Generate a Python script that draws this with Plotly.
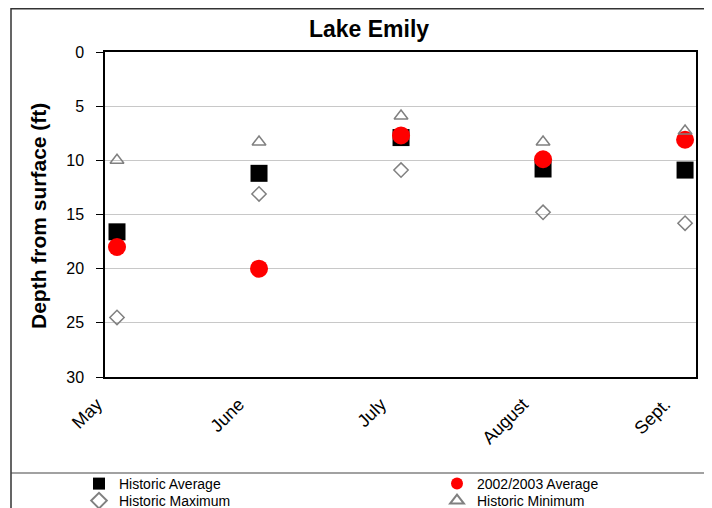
import plotly.graph_objects as go

months = ["May", "June", "July", "August", "Sept."]
historic_avg = [16.6, 11.2, 7.9, 10.8, 10.9]
avg_2002_2003 = [18.0, 20.0, 7.7, 9.9, 8.1]
historic_max = [24.5, 13.1, 10.9, 14.8, 15.8]
historic_min = [10.0, 8.3, 5.9, 8.3, 7.3]
y_ticks = [0, 5, 10, 15, 20, 25, 30]

FONT = "Arial, 'Liberation Sans', sans-serif"

fig = go.Figure()
fig.add_trace(go.Scatter(x=months, y=historic_avg, mode="markers", name="Historic Average",
                         legend="legend",
                         marker=dict(symbol="square", size=17, color="black")))
fig.add_trace(go.Scatter(x=months, y=avg_2002_2003, mode="markers", name="2002/2003 Average",
                         legend="legend2",
                         marker=dict(symbol="circle", size=18, color="#ff0000")))
fig.add_trace(go.Scatter(x=months, y=historic_max, mode="markers", name="Historic Maximum",
                         legend="legend3",
                         marker=dict(symbol="diamond-open", size=11, color="#808080",
                                     line=dict(width=1.5, color="#808080"))))
fig.add_trace(go.Scatter(x=months, y=historic_min, mode="markers", name="Historic Minimum",
                         legend="legend4",
                         marker=dict(symbol="triangle-up-open", size=12, color="#808080",
                                     line=dict(width=1.5, color="#808080"))))

# page body has an 8px margin: the figure starts at screen (8, 8)
OFF = 8
W, H = 704, 500
L, T = 97, 44
R = W - (696 - OFF)
B = H - (377 - OFF)
pw, ph = W - L - R, H - T - B

def px(sx):
    return (sx - OFF - L) / pw

def py(sy):
    return (H - B - (sy - OFF)) / ph

def cx(sx):
    return (sx - OFF) / W

def cy(sy):
    return 1 - (sy - OFF) / H

legend_common = dict(orientation="v", xref="container", yref="container",
                     xanchor="left", yanchor="middle",
                     font=dict(size=14, family=FONT), itemsizing="constant",
                     bgcolor="rgba(0,0,0,0)", tracegroupgap=0)

fig.update_layout(
    width=W, height=H,
    margin=dict(l=L, r=R, t=T, b=B, autoexpand=False),
    paper_bgcolor="white", plot_bgcolor="white",
    font=dict(family=FONT, color="black"),
    title=dict(text="<b>Lake Emily</b>", x=px(369), xanchor="center", xref="paper",
               y=cy(29), yanchor="middle", font=dict(size=23, family=FONT)),
    showlegend=True,
    legend=dict(x=cx(79), y=cy(484), **legend_common),
    legend2=dict(x=cx(437), y=cy(484), **legend_common),
    legend3=dict(x=cx(79), y=cy(501), **legend_common),
    legend4=dict(x=cx(437), y=cy(501), **legend_common),
    xaxis=dict(type="category", range=[-0.0845, 4.077], showgrid=False,
               showline=True, linecolor="black", linewidth=1.5, mirror=True,
               tickangle=-45, tickfont=dict(size=18, family=FONT), ticks="",
               ticklabelshift=-20, ticklabelstandoff=8, automargin=False),
    yaxis=dict(autorange=False, range=[30, 0], tickvals=y_ticks,
               showgrid=True, gridcolor="#c8c8c8", gridwidth=1,
               showline=True, linecolor="black", linewidth=1.5, mirror=True,
               ticks="outside", ticklen=7, tickcolor="black", zeroline=False,
               tickfont=dict(size=16, family=FONT), ticklabelstandoff=9,
               automargin=False),
    annotations=[
        dict(text="<b>Depth from surface (ft)</b>", xref="paper", yref="paper",
             x=px(38), y=py(216), xanchor="center", yanchor="middle", textangle=-90,
             showarrow=False, font=dict(size=21, family=FONT, color="black")),
    ],
    shapes=[
        dict(type="rect", xref="paper", yref="paper", x0=px(11), x1=px(730), y0=py(525), y1=py(8.8),
             line=dict(color="#333333", width=1.5), fillcolor="rgba(0,0,0,0)", layer="below"),
        dict(type="line", xref="paper", yref="paper", x0=px(11), x1=px(730), y0=py(473), y1=py(473),
             line=dict(color="#444444", width=1.2)),
    ],
)

fig.write_html("out.html")
